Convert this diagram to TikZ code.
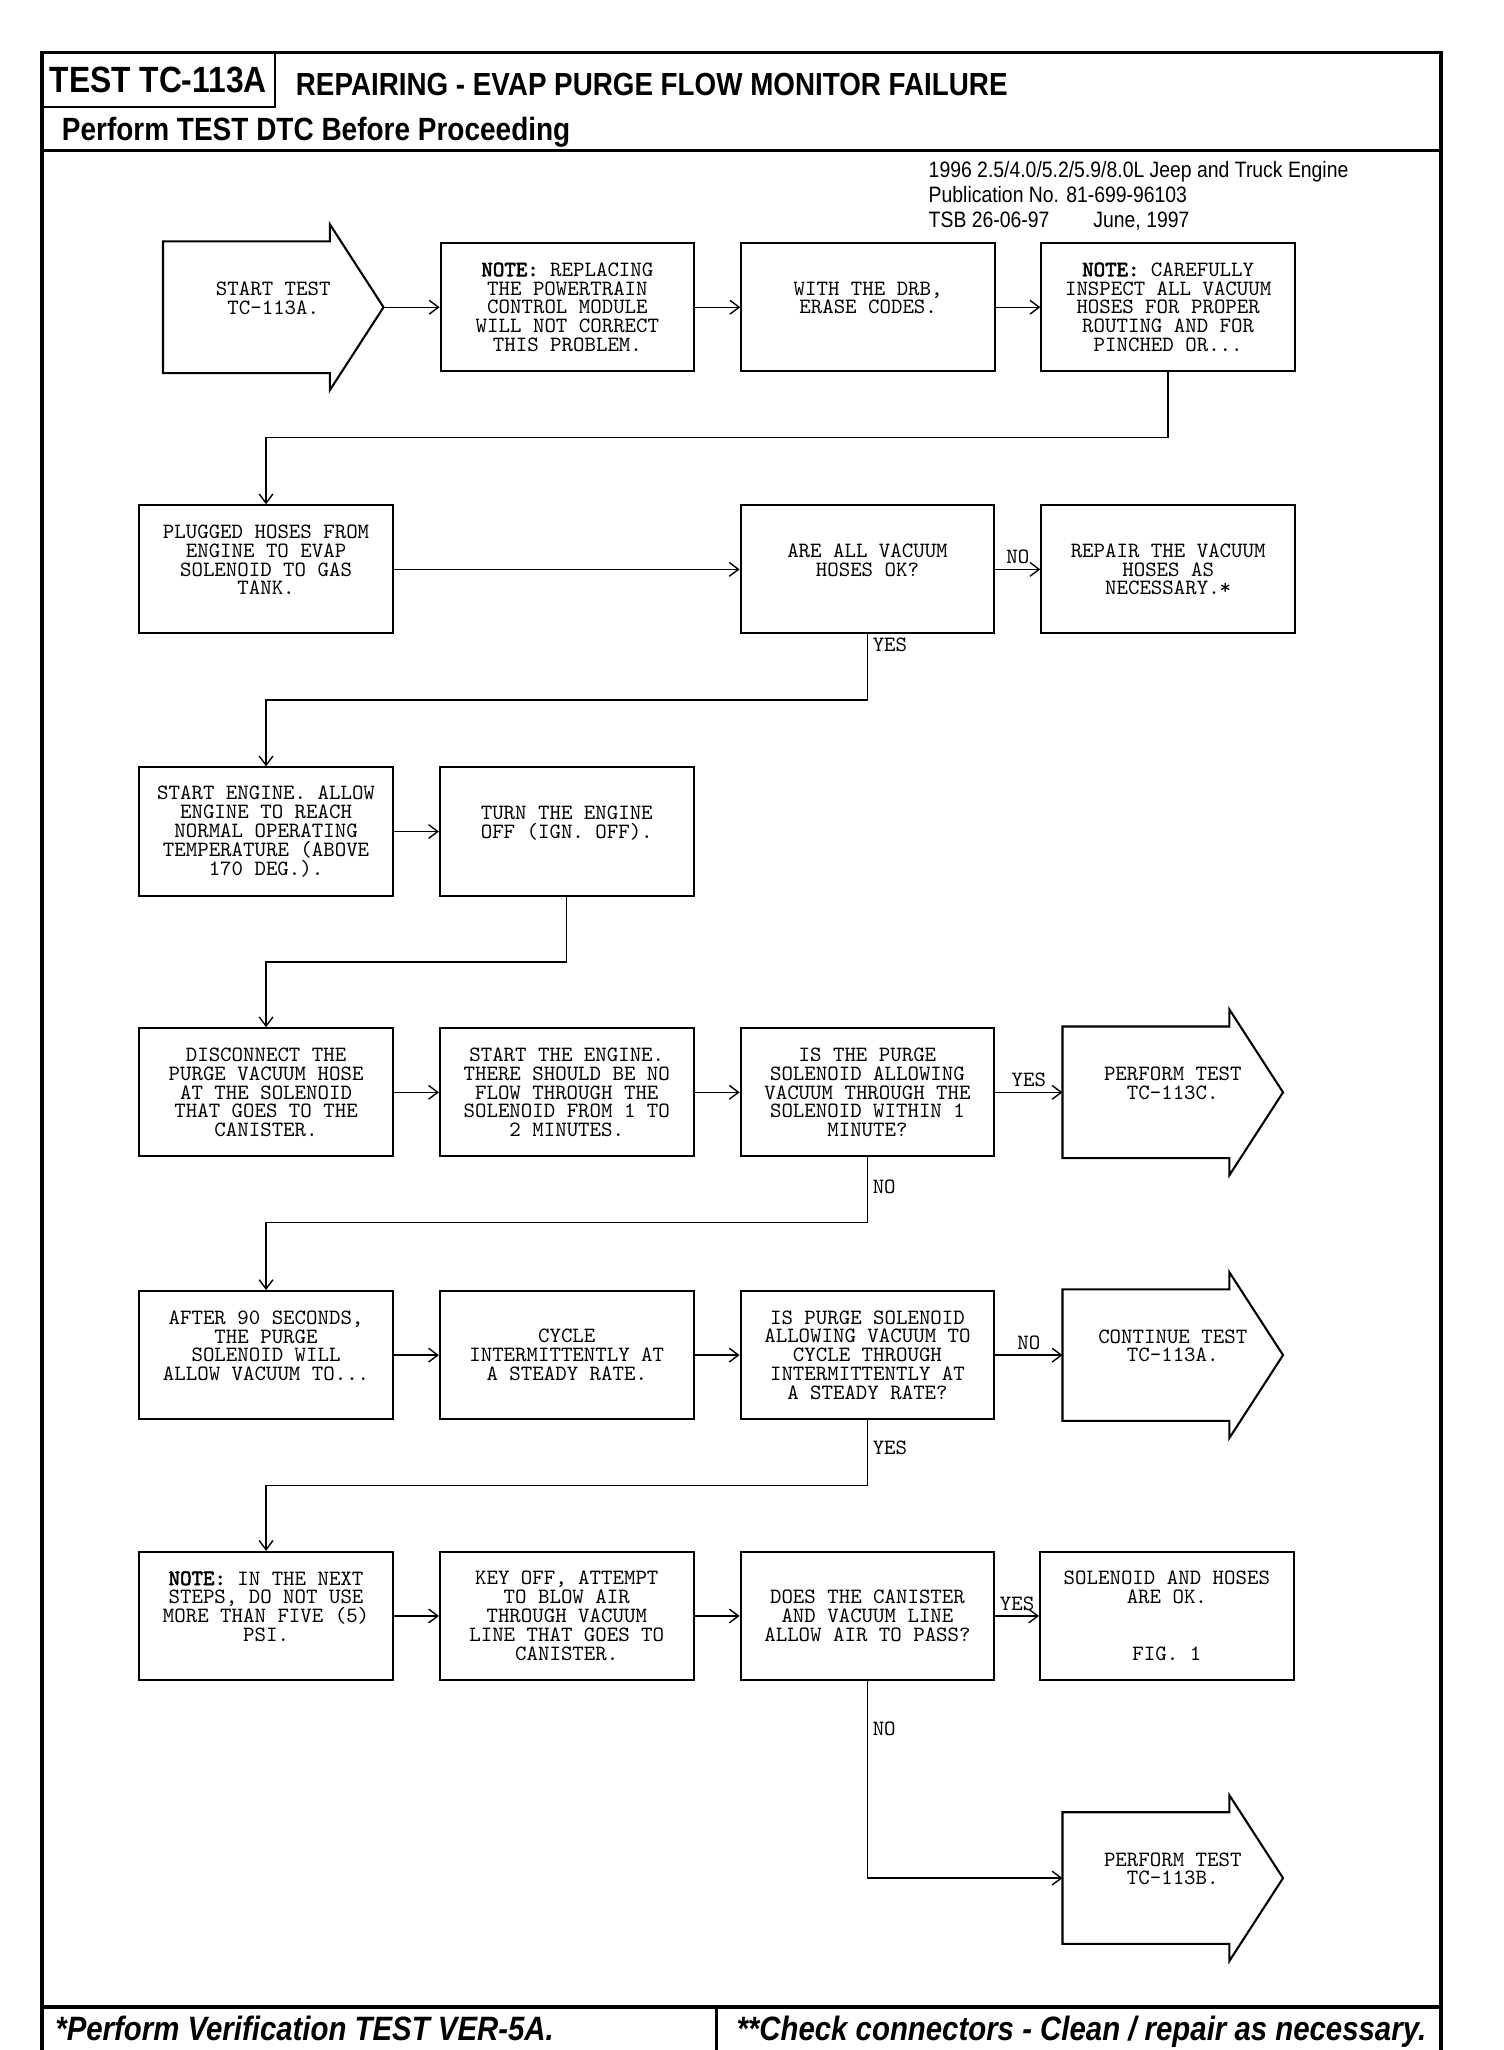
\documentclass[tikz,border=0pt]{standalone}
\usepackage{fontspec}
\setmainfont[FakeStretch=0.87]{Liberation Sans}
\setmonofont{lmmono10-regular.otf}[BoldFont=lmmono10-regular.otf, BoldFeatures={FakeBold=2.5}]
\usetikzlibrary{arrows.meta}

\newcommand{\boxtext}{\fontsize{9.5}{8.2}\ttfamily}
% Umriss der Pfeil-Kaesten
\newcommand{\drawpointer}[1]{%
  \draw[boxline] (#1.north west) -- ([xshift=-0.82cm]#1.north east) -- ++(0,0.26)
    -- (#1.east) -- ([xshift=-0.82cm,yshift=-0.26cm]#1.south east)
    -- ++(0,0.26) -- (#1.south west) -- cycle;}

\tikzset{
  boxline/.style={line width=0.9pt},
  pageline/.style={line width=1.5pt},
  stepbox/.style={boxline, draw, rectangle, minimum width=3.88cm, minimum height=1.96cm,
    inner sep=0pt, align=center, font=\boxtext},
  pointer/.style={rectangle, minimum width=3.36cm, minimum height=2cm,
    inner sep=0pt, align=center, font=\boxtext},
  flow/.style={line width=0.6pt, -{Straight Barb[length=4pt,width=6pt]}},
  answer/.style={font=\boxtext, inner sep=2pt}
}

\begin{document}
\begin{tikzpicture}
            \fill[white] (0,0) rectangle (23,-31.36);
            \useasboundingbox (0,0) rectangle (23,-31.36);

            % Rahmen
            \draw[pageline] (0.64,-31.36) -- (0.64,-0.8) -- (22.04,-0.8) -- (22.04,-31.36);
            \draw[pageline] (0.64,-2.3) -- (22.04,-2.3);
            \draw[pageline] (0.64,-30.7) -- (22.04,-30.7);
            \draw[pageline] (10.96,-30.7) -- (10.96,-31.36);

            % Kopf
            \node[draw, boxline, minimum width=3.56cm, minimum height=0.84cm, inner sep=0pt,
              font=\bfseries\fontsize{15.9}{18}\selectfont] (testno) at (2.42,-1.22) {TEST TC-113A};
            \node[anchor=west, inner sep=0pt, font=\bfseries\fontsize{13.9}{16}\selectfont]
              (title) at (4.52,-1.30) {REPAIRING - EVAP PURGE FLOW MONITOR FAILURE};
            \node[anchor=base west, inner sep=0pt, font=\bfseries\fontsize{14}{16}\selectfont]
              (pretest) at (0.94,-2.15) {Perform TEST DTC Before Proceeding};
            \node[anchor=base west, inner sep=0pt, font=\fontsize{9.7}{11}\selectfont]
              (engine) at (14.2,-2.72) {1996 2.5/4.0/5.2/5.9/8.0L Jeep and Truck Engine};
            \node[anchor=base west, inner sep=0pt, font=\fontsize{9.7}{11}\selectfont]
              (publication) at (14.2,-3.10) {Publication No. 81-699-96103};
            \node[anchor=base west, inner sep=0pt, font=\fontsize{9.7}{11}\selectfont]
              (tsb) at (14.2,-3.48) {TSB 26-06-97};
            \node[anchor=base west, inner sep=0pt, font=\fontsize{9.7}{11}\selectfont]
              (date) at (16.72,-3.48) {June, 1997};

            % Zeile 1
            \node[pointer] (start) at (4.18,-4.70) {START TEST\\TC-113A.\\~};
            \drawpointer{start}
            \node[stepbox] (nopcm) at (8.68,-4.70) {\textbf{NOTE:} REPLACING\\THE POWERTRAIN\\CONTROL MODULE\\WILL NOT CORRECT\\THIS PROBLEM.};
            \node[stepbox] (erase) at (13.28,-4.70) {WITH THE DRB,\\ERASE CODES.\\~};
            \node[stepbox] (inspect) at (17.87,-4.70) {\textbf{NOTE:} CAREFULLY\\INSPECT ALL VACUUM\\HOSES FOR PROPER\\ROUTING AND FOR\\PINCHED OR...};

            % Zeile 2
            \node[stepbox] (plugged) at (4.07,-8.71) {PLUGGED HOSES FROM\\ENGINE TO EVAP\\SOLENOID TO GAS\\TANK.\\~};
            \node[stepbox] (hosesok) at (13.27,-8.71) {ARE ALL VACUUM\\HOSES OK?\\~};
            \node[stepbox] (repair) at (17.87,-8.71) {REPAIR THE VACUUM\\HOSES AS\\NECESSARY.*};

            % Zeile 3
            \node[stepbox] (warmup) at (4.07,-12.72) {START ENGINE. ALLOW\\ENGINE TO REACH\\NORMAL OPERATING\\TEMPERATURE (ABOVE\\170 DEG.).};
            \node[stepbox] (ignoff) at (8.67,-12.72) {TURN THE ENGINE\\OFF (IGN. OFF).\\~};

            % Zeile 4
            \node[stepbox] (disconnect) at (4.07,-16.71) {DISCONNECT THE\\PURGE VACUUM HOSE\\AT THE SOLENOID\\THAT GOES TO THE\\CANISTER.};
            \node[stepbox] (noflow) at (8.67,-16.71) {START THE ENGINE.\\THERE SHOULD BE NO\\FLOW THROUGH THE\\SOLENOID FROM 1 TO\\2 MINUTES.};
            \node[stepbox] (flowq) at (13.27,-16.71) {IS THE PURGE\\SOLENOID ALLOWING\\VACUUM THROUGH THE\\SOLENOID WITHIN 1\\MINUTE?};
            \node[pointer] (tcc) at (17.94,-16.71) {PERFORM TEST\\TC-113C.\\~};
            \drawpointer{tcc}

            % Zeile 5
            \node[stepbox] (wait) at (4.07,-20.73) {AFTER 90 SECONDS,\\THE PURGE\\SOLENOID WILL\\ALLOW VACUUM TO...\\~};
            \node[stepbox] (cycle) at (8.67,-20.73) {CYCLE\\INTERMITTENTLY AT\\A STEADY RATE.};
            \node[stepbox] (cycleq) at (13.27,-20.73) {IS PURGE SOLENOID\\ALLOWING VACUUM TO\\CYCLE THROUGH\\INTERMITTENTLY AT\\A STEADY RATE?};
            \node[pointer] (tca) at (17.94,-20.73) {CONTINUE TEST\\TC-113A.\\~};
            \drawpointer{tca}

            % Zeile 6
            \node[stepbox] (psi) at (4.07,-24.72) {\textbf{NOTE:} IN THE NEXT\\STEPS, DO NOT USE\\MORE THAN FIVE (5)\\PSI.\\~};
            \node[stepbox] (blowair) at (8.67,-24.72) {KEY OFF, ATTEMPT\\TO BLOW AIR\\THROUGH VACUUM\\LINE THAT GOES TO\\CANISTER.};
            \node[stepbox] (airq) at (13.27,-24.72) {DOES THE CANISTER\\AND VACUUM LINE\\ALLOW AIR TO PASS?};
            \node[stepbox] (allok) at (17.85,-24.72) {SOLENOID AND HOSES\\ARE OK.\\~\\~\\FIG. 1};

            % Zeile 7
            \node[pointer] (tcb) at (17.94,-28.73) {PERFORM TEST\\TC-113B.\\~};
            \drawpointer{tcb}

            % Verbindungen
            \draw[flow] (start.east) -- (nopcm);
            \draw[flow] (nopcm) -- (erase);
            \draw[flow] (erase) -- (inspect);
            \draw[flow] (inspect.south) -- ++(0,-1) -| (plugged.north);
            \draw[flow] (plugged) -- (hosesok);
            \draw[flow] (hosesok) -- node[answer, above] {NO} (repair);
            \draw[flow] (hosesok.south) -- node[answer, right, pos=0.16] {YES} ++(0,-1) -| (warmup.north);
            \draw[flow] (warmup) -- (ignoff);
            \draw[flow] (ignoff.south) -- ++(0,-1) -| (disconnect.north);
            \draw[flow] (disconnect) -- (noflow);
            \draw[flow] (noflow) -- (flowq);
            \draw[flow] (flowq) -- node[answer, above] {YES} (tcc);
            \draw[flow] (flowq.south) -- node[answer, right, pos=0.45] {NO} ++(0,-1) -| (wait.north);
            \draw[flow] (wait) -- (cycle);
            \draw[flow] (cycle) -- (cycleq);
            \draw[flow] (cycleq) -- node[answer, above] {NO} (tca);
            \draw[flow] (cycleq.south) -- node[answer, right, pos=0.42] {YES} ++(0,-1) -| (psi.north);
            \draw[flow] (psi) -- (blowair);
            \draw[flow] (blowair) -- (airq);
            \draw[flow] (airq) -- node[answer, above] {YES} (allok);
            \draw[flow] (airq.south) |- node[answer, right, pos=0.12] {NO} (tcb.west);

            % Fusszeile
            \node[anchor=base west, inner sep=0pt, font=\bfseries\itshape\fontsize{14.7}{17}\selectfont]
              (verify) at (0.84,-31.22) {*Perform Verification TEST VER-5A.};
            \node[anchor=base west, inner sep=0pt, font=\bfseries\itshape\fontsize{14.7}{17}\selectfont]
              (connectors) at (11.26,-31.22) {**Check connectors - Clean / repair as necessary.};
\end{tikzpicture}
\end{document}
